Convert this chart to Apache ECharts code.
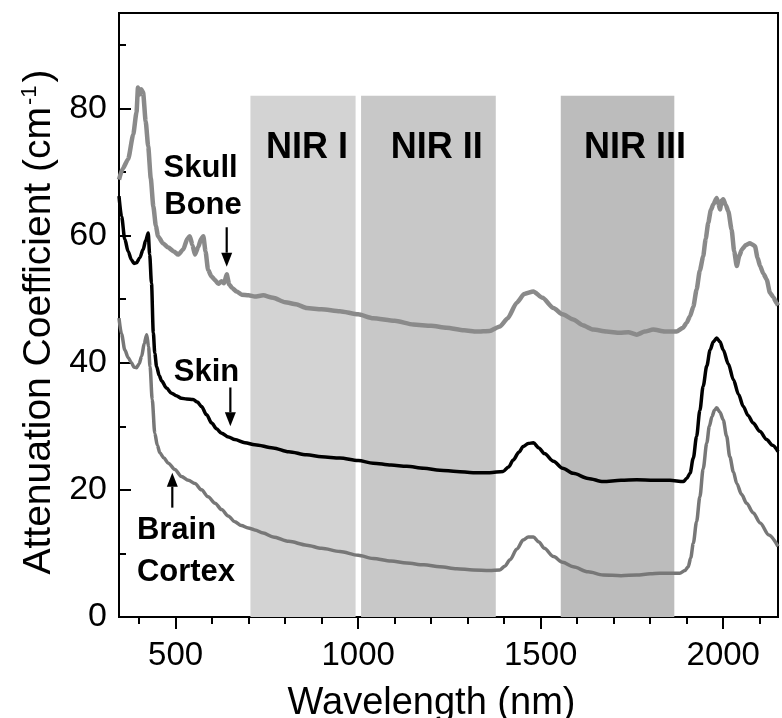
<!DOCTYPE html>
<html>
<head>
<meta charset="utf-8">
<script src="https://cdn.jsdelivr.net/npm/echarts@6/dist/echarts.min.js"></script>
<style>html,body{margin:0;padding:0;background:#fff;}#c{width:782px;height:718px;}</style>
</head>
<body>
<div id="c"></div>
<script>
// ---- Data ----
const skullX = [345,355,370,384,393,397,402,406,411,418,425,432,439,446,452,465,480,495,507,521,532,539,546,553,562,570,576,582,589,598,608,617,626,633,640,647,654,667,681,700,717,740,767,800,830,859,900,950,1000,1041,1100,1151,1200,1242,1290,1325,1360,1388,1410,1434,1455,1480,1505,1535,1560,1589,1615,1644,1680,1717,1740,1763,1785,1808,1840,1872,1890,1900,1909,1918,1927,1936,1945,1952,1959,1966,1973,1982,1987,1991,1996,2000,2007,2014,2023,2030,2037,2044,2051,2062,2073,2080,2087,2094,2101,2110,2119,2128,2137,2146,2150];
const skullY = [68.8,70.5,72,75.9,79.4,83.3,82.2,83,82.5,78,74,69,64.6,61.5,59.9,58.8,58.1,57.5,57,57.8,59.5,59.9,58.5,57,58.2,59.5,59.9,57.5,54.6,53.6,53,52.4,52.8,52.5,53.9,52.3,51.8,51.2,50.7,50.6,50.4,50.6,50.2,49.5,49.2,48.6,48.4,48.1,47.6,47,46.6,46,45.8,45.5,45.1,44.9,45,45.7,47,49.4,50.8,51.2,50.2,48.6,47.6,46.8,45.9,45.2,44.9,44.7,44.8,44.4,44.9,45.2,44.9,44.9,45.5,46.3,47.3,48.8,51.5,54.5,56.7,59.5,62,64,64.9,65.9,65,64.1,65.5,65.7,64.8,63.8,60.9,57.5,55.2,56.8,57.8,58.5,58.8,58.6,58.3,56.5,55.2,54,53.1,51,50.3,49.4,49];

const skinX = [345,352,361,370,379,386,393,402,411,418,425,429,434,439,443,448,455,462,475,489,502,516,530,548,560,571,585,599,612,626,645,662,690,717,767,810,859,900,950,1000,1041,1090,1133,1180,1224,1270,1315,1360,1397,1412,1425,1440,1452,1466,1480,1495,1510,1535,1560,1589,1630,1671,1720,1763,1810,1854,1891,1900,1909,1918,1927,1936,1945,1955,1964,1973,1982,1991,2000,2014,2028,2042,2055,2068,2082,2100,2119,2135,2150];
const skinY = [66.2,63,59.4,57.5,56.2,55.6,55.7,56.5,57.8,59.2,60.4,57,52.5,44.7,41.5,39.4,38,37.1,36,35.2,34.8,34.4,34.3,34.2,33.8,33.1,31.8,30.5,29.6,28.9,28.3,27.9,27.4,27.1,26.6,26,25.5,25.2,25,24.6,24.2,23.9,23.7,23.4,23.1,22.9,22.7,22.7,22.9,23.6,24.7,25.9,26.8,27.3,27.4,26.6,25.7,24.5,23.4,22.6,21.8,21.3,21.5,21.6,21.5,21.5,21.3,21.8,22.6,25,28.4,32.5,36.3,39.5,42,43.3,43.9,43.3,42,39.8,37.3,35,33.1,31.7,30.5,29.2,27.9,27,26];

const cortexX = [345,352,361,370,379,386,393,400,407,414,421,426,430,436,443,450,457,468,480,498,516,535,553,571,589,608,626,644,662,680,699,717,740,767,810,859,900,950,1000,1041,1090,1133,1180,1224,1270,1315,1360,1388,1402,1416,1435,1452,1466,1480,1495,1510,1535,1560,1589,1630,1671,1720,1763,1800,1826,1860,1881,1895,1904,1911,1918,1927,1936,1945,1955,1962,1969,1976,1982,1991,2000,2009,2018,2028,2037,2050,2064,2082,2101,2125,2150];
const cortexY = [47,44.5,42,40.8,40,39.3,39.2,39.8,41,43,44.4,42.5,39.4,34.2,28.9,27,25.8,25,24.2,23.2,22.1,21.5,21,20,18.9,17.9,16.9,15.9,15,14.4,14,13.7,13.2,12.6,11.9,11.3,10.8,10.3,9.7,9.2,8.8,8.5,8.2,7.9,7.6,7.4,7.3,7.4,8,9,10.7,12.1,12.6,12.6,11.8,10.8,9.5,8.6,7.9,7.1,6.6,6.5,6.6,6.8,6.9,6.9,6.9,7.3,7.9,9.3,11.6,15,18.9,23.3,27.4,30,31.5,32.5,32.9,32.2,31,28.5,25.2,22.8,21,19.3,17.9,16.4,14.8,12.9,11.1];

// NIR windows
const regionNames = ['NIR I', 'NIR II', 'NIR III'];
const regionStart = [705, 1008, 1555];
const regionEnd = [993, 1377, 1866];
const regionTop = 82;
const regionLabelX = [860, 1215, 1758];
const regionLabelY = 73.7;

// Curve labels
const curveLabels = ['Skull', 'Bone', 'Skin', 'Brain', 'Cortex'];
const curveLabelX = [467, 469, 495, 394, 394];
const curveLabelY = [70.6, 64.8, 38.4, 13.6, 7.0];

// Arrows: x, tail value, tip value
const arrowX = [640, 650, 491];
const arrowTail = [61.3, 36.1, 17.2];
const arrowTip = [55.1, 30.0, 22.7];

// Axis ticks
const xMajor = [500, 1000, 1500, 2000];
const xMinor = [400, 600, 700, 800, 900, 1100, 1200, 1300, 1400, 1600, 1700, 1800, 1900, 2100];
const yMajor = [0, 20, 40, 60, 80];
const yMinor = [10, 30, 50, 70, 90];

// ---- Build ----
const zip = (xs, ys) => xs.map((x, i) => [x, ys[i]]);
const FONT = "'Liberation Sans', Arial, Helvetica, sans-serif";
const regionColors = ['#d3d3d3', '#c8c8c8', '#bcbcbc'];
const plain = v => String(v);

const chart = echarts.init(document.getElementById('c'), null, {renderer: 'canvas'});

const option = {
  animation: false,
  backgroundColor: '#fff',
  grid: {left: 119, right: 4, top: 13, bottom: 101, containLabel: false, outerBoundsMode: 'none',
         show: true, borderColor: '#000', borderWidth: 2, backgroundColor: 'transparent'},
  xAxis: [
    {
      type: 'value', min: 345, max: 2150, position: 'bottom',
      axisLine: {show: true, onZero: false, lineStyle: {color: '#000', width: 2}},
      axisTick: {show: true, inside: false, length: 12, customValues: xMajor, lineStyle: {color: '#000', width: 2}},
      axisLabel: {show: true, customValues: xMajor, formatter: plain, fontSize: 33, fontFamily: FONT, color: '#000', margin: 22},
      splitLine: {show: false},
      name: 'Wavelength (nm)', nameLocation: 'middle', nameGap: 68,
      nameTextStyle: {fontSize: 38, fontFamily: FONT, color: '#000', padding: [0, 34, 0, 0]}
    },
    {
      type: 'value', min: 345, max: 2150, position: 'bottom',
      axisLine: {show: false, onZero: false},
      axisTick: {show: true, inside: false, length: 7, customValues: xMinor, lineStyle: {color: '#000', width: 2}},
      axisLabel: {show: false},
      splitLine: {show: false}
    }
  ],
  yAxis: [
    {
      type: 'value', min: 0, max: 95, position: 'left',
      axisLine: {show: true, onZero: false, lineStyle: {color: '#000', width: 2}},
      axisTick: {show: true, inside: true, length: 12, customValues: yMajor, lineStyle: {color: '#000', width: 2}},
      axisLabel: {show: true, customValues: yMajor, formatter: plain, fontSize: 34, fontFamily: FONT, color: '#000', margin: 12},
      splitLine: {show: false},
      name: 'Attenuation Coefficient (cm{sup|-1})', nameLocation: 'middle', nameGap: 59,
      nameTextStyle: {
        fontSize: 39, fontFamily: FONT, color: '#000', padding: [0, 14, 0, 0],
        rich: {sup: {fontSize: 22, fontFamily: FONT, color: '#000', verticalAlign: 'top', lineHeight: 39, padding: [0, 3, 0, 2]}}
      }
    },
    {
      type: 'value', min: 0, max: 95, position: 'left',
      axisLine: {show: false, onZero: false},
      axisTick: {show: true, inside: true, length: 7, customValues: yMinor, lineStyle: {color: '#000', width: 2}},
      axisLabel: {show: false},
      splitLine: {show: false}
    }
  ],
  series: [
    {
      type: 'line', name: 'regions', data: [], z: 1, silent: true,
      markArea: {
        silent: true,
        data: regionStart.map((s, i) => [
          {xAxis: s, yAxis: 0, itemStyle: {color: regionColors[i]}},
          {xAxis: regionEnd[i], yAxis: regionTop}
        ])
      }
    },
    {
      type: 'line', name: 'Skull Bone', data: zip(skullX, skullY), z: 3,
      showSymbol: false, symbol: 'none', smooth: 0.2, smoothMonotone: 'x',
      lineStyle: {color: '#8a8a8a', width: 4.5}
    },
    {
      type: 'line', name: 'Skin', data: zip(skinX, skinY), z: 4,
      showSymbol: false, symbol: 'none', smooth: 0.3, smoothMonotone: 'x',
      lineStyle: {color: '#000', width: 3.5}
    },
    {
      type: 'line', name: 'Brain Cortex', data: zip(cortexX, cortexY), z: 3,
      showSymbol: false, symbol: 'none', smooth: 0.3, smoothMonotone: 'x',
      lineStyle: {color: '#777777', width: 3.5}
    }
  ]
};
chart.setOption(option);

// Annotations placed through the chart's own coordinate conversion
const toPx = (x, y) => chart.convertToPixel({xAxisIndex: 0, yAxisIndex: 0}, [x, y]);
const graphics = [];
curveLabels.forEach((t, i) => {
  const p = toPx(curveLabelX[i], curveLabelY[i]);
  graphics.push({type: 'text', z: 100, silent: true, x: p[0], y: p[1],
    style: {text: t, fill: '#000', font: 'bold 31px ' + FONT, textAlign: 'left', textVerticalAlign: 'middle'}});
});
regionNames.forEach((t, i) => {
  const p = toPx(regionLabelX[i], regionLabelY);
  graphics.push({type: 'text', z: 100, silent: true, x: p[0], y: p[1],
    style: {text: t, fill: '#000', font: 'bold 36px ' + FONT, textAlign: 'center', textVerticalAlign: 'middle'}});
});
arrowX.forEach((x, i) => {
  const tail = toPx(x, arrowTail[i]);
  const tip = toPx(x, arrowTip[i]);
  const dir = tip[1] > tail[1] ? 1 : -1;
  const headLen = 14, headHalf = 5.5;
  const base = tip[1] - dir * headLen;
  graphics.push({type: 'line', z: 100, silent: true,
    shape: {x1: tail[0], y1: tail[1], x2: tip[0], y2: base},
    style: {stroke: '#000', lineWidth: 2.2}});
  graphics.push({type: 'polygon', z: 100, silent: true,
    shape: {points: [[tip[0], tip[1]], [tip[0] - headHalf, base], [tip[0] + headHalf, base]]},
    style: {fill: '#000'}});
});
chart.setOption({graphic: graphics});
</script>
</body>
</html>
